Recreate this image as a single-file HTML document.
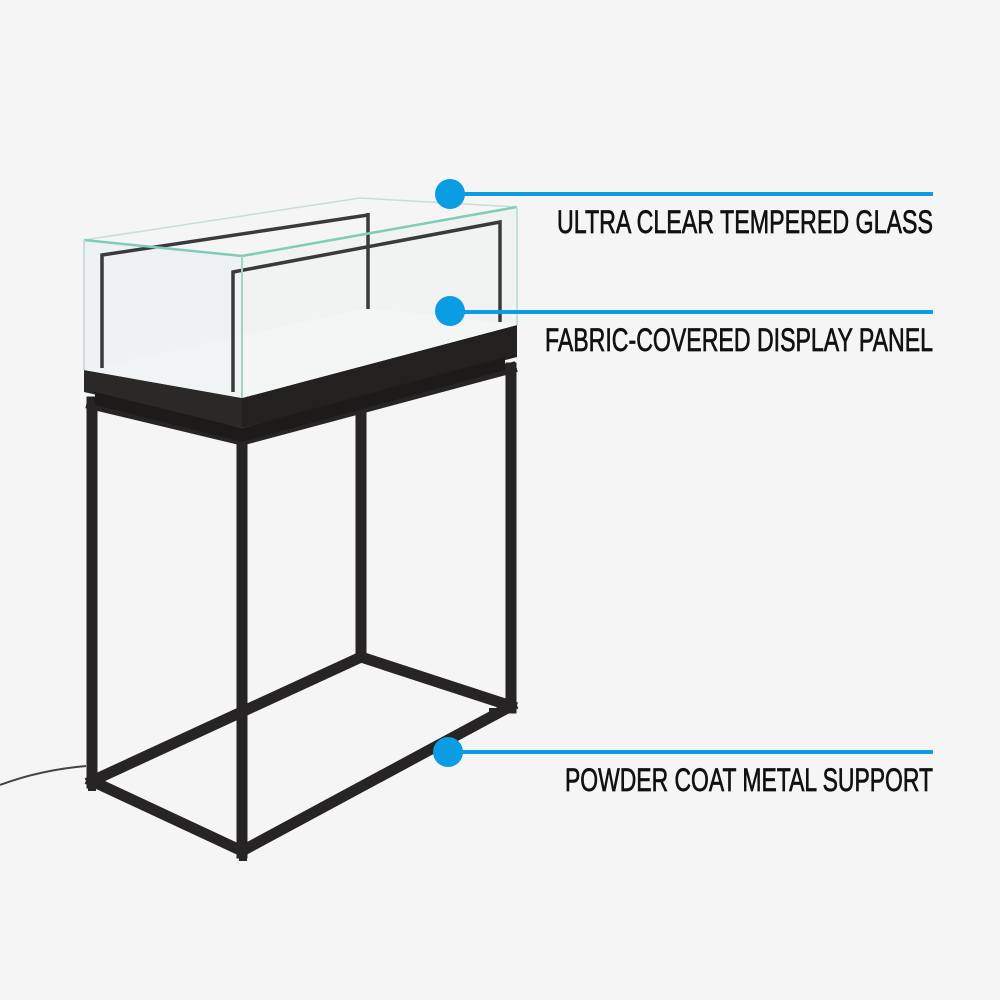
<!DOCTYPE html>
<html><head><meta charset="utf-8"><style>
html,body{margin:0;padding:0;background:#f5f5f5;}
svg{display:block}
text{font-family:"Liberation Sans Narrow","Liberation Sans",sans-serif;font-size:32px;fill:#111;stroke:#111;stroke-width:0.7;}
</style></head><body>
<svg width="1000" height="1000" viewBox="0 0 1000 1000" xmlns="http://www.w3.org/2000/svg">
<rect width="1000" height="1000" fill="#f5f5f5"/>
<!-- cord -->
<path d="M0,785 Q40,770 86,766" stroke="#444" stroke-width="2" fill="none"/>
<g stroke="#262424" stroke-width="11" stroke-linecap="square" fill="none">
<line x1="361" y1="415" x2="361" y2="657"/>
<line x1="92" y1="781" x2="361" y2="657"/>
<line x1="361" y1="657" x2="511" y2="706"/>
<line x1="92" y1="781" x2="242" y2="851"/>
<line x1="242" y1="851" x2="511" y2="706"/>
<line x1="92" y1="402" x2="92" y2="783"/>
<line x1="242" y1="440" x2="242" y2="853"/>
<line x1="511" y1="368" x2="511" y2="708"/>
<line x1="92" y1="404" x2="242" y2="440"/>
<line x1="242" y1="440" x2="511" y2="368"/>
</g>
<g fill="#262424">
<rect x="88" y="786" width="8" height="5"/><rect x="239" y="856" width="8" height="5"/><rect x="489" y="708" width="7" height="4"/><rect x="346" y="661" width="6" height="4"/>
</g>
<!-- plinth -->
<polygon points="84,370 242,398 242,428 84,392" fill="#2b2927"/>
<polygon points="242,398 517,325 517,357 242,428" fill="#232120"/>
<polygon points="95,392 242,428 505,357 505,370 242,442 95,405" fill="#1c1b1a"/>
<!-- display panel -->
<polygon points="84,370 242,398 517,325 367,308" fill="#fafafa"/>
<!-- glass -->
<polygon points="84,240 242,256 242,398 84,370" fill="#eaefee" opacity="0.55"/>
<polygon points="242,256 517,207 517,325 242,398" fill="#eef1f1" opacity="0.5"/>
<g stroke="#3a3a3a" stroke-width="3.5" fill="none">
<polyline points="102,368 102,255 368,215"/>
<polyline points="233,392 233,272 500,222 500,322"/>
<polyline points="368,213 368,309"/>
</g>
<g fill="none">
<polyline points="84,240 360,198 517,207" stroke="#c7ddd8" stroke-width="1.5"/>
<polyline points="84,240 242,256 517,207" stroke="#7fcdb9" stroke-width="2.5"/>
<line x1="242" y1="256" x2="242" y2="398" stroke="#9fd6c8" stroke-width="2"/>
<line x1="84" y1="240" x2="84" y2="370" stroke="#c9dfd9" stroke-width="2"/>
<line x1="517" y1="207" x2="517" y2="325" stroke="#c9dfd9" stroke-width="2"/>
</g>
<!-- callouts -->
<g fill="#0a9de3">
<circle cx="450" cy="194" r="15"/><rect x="450" y="192" width="483" height="4"/>
<circle cx="450" cy="311" r="15"/><rect x="450" y="310" width="483" height="4"/>
<circle cx="448" cy="752" r="15"/><rect x="448" y="750" width="485" height="4"/>
</g>
<text x="557" y="233" textLength="376" lengthAdjust="spacingAndGlyphs">ULTRA CLEAR TEMPERED GLASS</text>
<text x="545" y="351" textLength="388" lengthAdjust="spacingAndGlyphs">FABRIC-COVERED DISPLAY PANEL</text>
<text x="565" y="791" textLength="368" lengthAdjust="spacingAndGlyphs">POWDER COAT METAL SUPPORT</text>
</svg>
</body></html>
